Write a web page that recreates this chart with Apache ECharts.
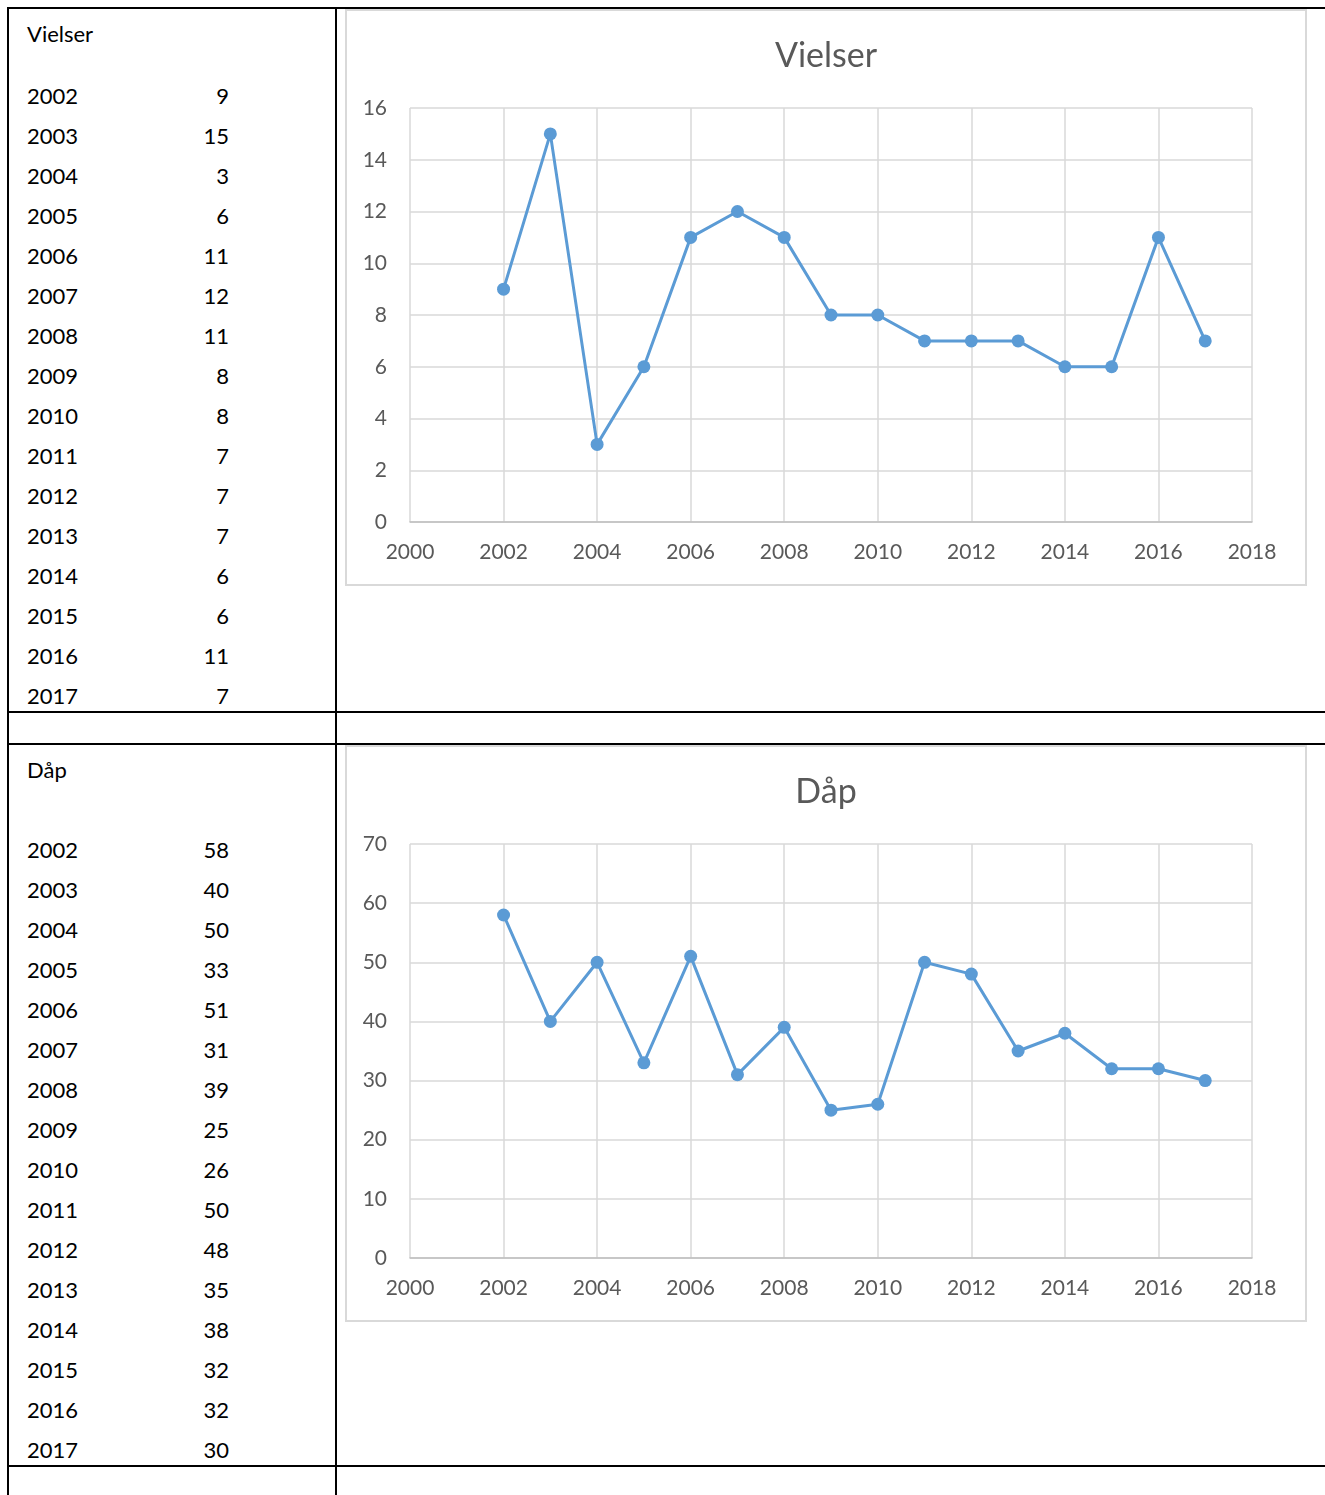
<!DOCTYPE html>
<html>
<head>
<meta charset="utf-8">
<script src="https://cdn.jsdelivr.net/npm/echarts@6/dist/echarts.min.js"></script>
<style>
  html, body { margin:0; padding:0; background:#fff; width:1325px; height:1495px; overflow:hidden; font-family: Lato, "Noto Sans", sans-serif; }
  .ln { position:absolute; background:#000; }
  .frame { position:absolute; border:2px solid #d9d9d9; box-sizing:border-box; }
  .chart { position:absolute; }
  .txt { position:absolute; font-size:22px; color:#000; line-height:26px; white-space:nowrap; }
</style>
</head>
<body>
<div id="page"></div>
<script>
// ---- data ----
const years = [2002,2003,2004,2005,2006,2007,2008,2009,2010,2011,2012,2013,2014,2015,2016,2017];
const vielser = [9,15,3,6,11,12,11,8,8,7,7,7,6,6,11,7];
const daap = [58,40,50,33,51,31,39,25,26,50,48,35,38,32,32,30];
const titles = ['Vielser', 'Dåp'];

const page = document.getElementById('page');
function add(cls, style, text) {
  const d = document.createElement('div');
  d.className = cls;
  Object.assign(d.style, style);
  if (text !== undefined) d.textContent = text;
  page.appendChild(d);
  return d;
}
// table lines
add('ln', {left:'7px', top:'7px', width:'1318px', height:'2px'});
add('ln', {left:'7px', top:'7px', width:'2px', height:'1488px'});
add('ln', {left:'335px', top:'7px', width:'2px', height:'1488px'});
add('ln', {left:'7px', top:'711px', width:'1318px', height:'2px'});
add('ln', {left:'7px', top:'743px', width:'1318px', height:'1.5px'});
add('ln', {left:'7px', top:'1465px', width:'1318px', height:'2px'});

// left column text
function textBlock(title, values, titleY, firstY) {
  add('txt', {left:'27px', top:(titleY-13)+'px'}, title);
  years.forEach((y, i) => {
    const cy = firstY + 40*i;
    add('txt', {left:'27px', top:(cy-13)+'px'}, String(y));
    add('txt', {left:'129px', width:'100px', textAlign:'right', top:(cy-13)+'px'}, String(values[i]));
  });
}
textBlock(titles[0], vielser, 34, 96);
textBlock(titles[1], daap, 770, 850);

// charts
function makeChart(top, title, values, ymax, yint) {
  add('frame', {left:'345px', top:top+'px', width:'962px', height:'577px'});
  const el = add('chart', {left:'345px', top:top+'px', width:'962px', height:'577px'});
  const c = echarts.init(el, null, {renderer:'canvas'});
  c.setOption({
    animation:false,
    title:{ text:title, left:'center', top:25, textStyle:{ fontFamily:'Lato', fontSize:34, fontWeight:'normal', color:'#595959' } },
    grid:{ left:65, right:55, top:99, bottom:64, containLabel:false },
    xAxis:{ type:'value', min:2000, max:2018, interval:2,
      axisLine:{ show:true, lineStyle:{ color:'#bfbfbf', width:1.5 } },
      axisTick:{ show:false },
      axisLabel:{ fontFamily:'Lato', fontSize:21, color:'#595959', margin:20, formatter:(v)=>String(v) },
      splitLine:{ show:true, lineStyle:{ color:'#d9d9d9', width:1.5 } } },
    yAxis:{ type:'value', min:0, max:ymax, interval:yint,
      axisLine:{ show:false }, axisTick:{ show:false },
      axisLabel:{ fontFamily:'Lato', fontSize:21, color:'#595959', margin:23, formatter:(v)=>String(v) },
      splitLine:{ show:true, lineStyle:{ color:'#d9d9d9', width:1.5 } } },
    series:[{ type:'line', data: years.map((y,i)=>[y, values[i]]),
      symbol:'circle', symbolSize:13,
      lineStyle:{ color:'#5b9bd5', width:3 },
      itemStyle:{ color:'#5b9bd5' } }]
  });
}
makeChart(9, titles[0], vielser, 16, 2);
makeChart(745, titles[1], daap, 70, 10);
</script>
</body>
</html>
